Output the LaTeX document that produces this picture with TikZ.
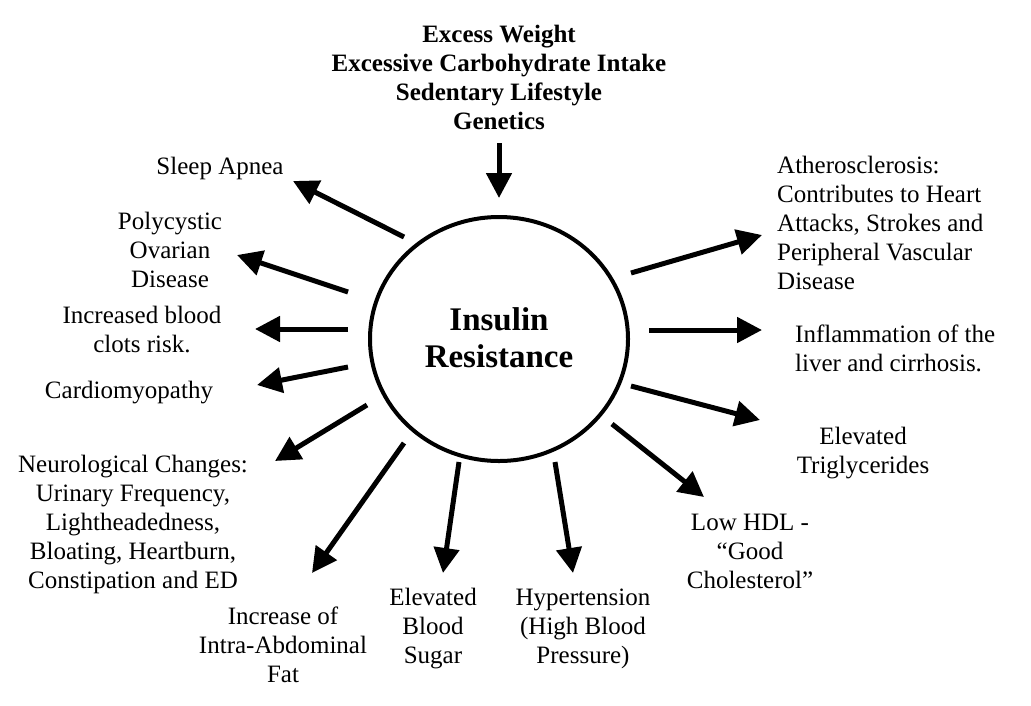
\documentclass[tikz,border=0pt]{standalone}
\usepackage{fontspec}
\setmainfont{Liberation Serif}
\usetikzlibrary{arrows.meta,shapes.geometric}
\tikzset{
  lbl/.style={inner sep=0pt, align=center, font=\fontsize{25}{29}\selectfont},
  lbll/.style={inner sep=0pt, align=left, font=\fontsize{25}{29}\selectfont},
  arr/.style={line width=5pt, -{Triangle[length=25pt,width=25pt]}},
}
\begin{document}
\begin{tikzpicture}[x=1pt,y=-1pt]
\useasboundingbox (0,0) rectangle (1031,705);
% center ellipse
\node[ellipse, draw, line width=4pt, minimum width=258pt, minimum height=244pt, inner sep=0pt] (ir) at (499,339) {};
\node[inner sep=0pt, align=center, font=\fontsize{33}{37}\selectfont\bfseries] (irt) at (499,338) {Insulin\\Resistance};
% labels
\node[lbl, font=\fontsize{25}{29}\selectfont\bfseries] (causes) at (499,77) {Excess Weight\\Excessive Carbohydrate Intake\\Sedentary Lifestyle\\Genetics};
\node[lbl] (sleep) at (220,168) {Sleep Apnea};
\node[lbl] (poly) at (170,250) {Polycystic\\Ovarian\\Disease};
\node[lbl] (clots) at (142,329.5) {Increased blood\\clots risk.};
\node[lbl] (cardio) at (129,393) {Cardiomyopathy};
\node[lbl] (neuro) at (133,524.5) {Neurological Changes:\\Urinary Frequency,\\Lightheadedness,\\Bloating, Heartburn,\\Constipation and ED};
\node[lbl] (fat) at (283,644.5) {Increase of\\Intra-Abdominal\\Fat};
\node[lbl] (sugar) at (433,629) {Elevated\\Blood\\Sugar};
\node[lbl] (hyper) at (583,629) {Hypertension\\(High Blood\\Pressure)};
\node[lbl] (hdl) at (750,551) {Low HDL -\\“Good\\Cholesterol”};
\node[lbl] (trig) at (863,453.5) {Elevated\\Triglycerides};
\node[lbll, anchor=west] (liver) at (795,348.5) {Inflammation of the\\liver and cirrhosis.};
\node[lbll, anchor=west] (ath) at (777,223) {Atherosclerosis:\\Contributes to Heart\\Attacks, Strokes and\\Peripheral Vascular\\Disease};
% arrow end points
\coordinate (s0) at (499,143); \coordinate (t0) at (499,198);
\coordinate (s1) at (404,237); \coordinate (t1) at (293,181);
\coordinate (s2) at (348,292); \coordinate (t2) at (237,255);
\coordinate (s3) at (348,329); \coordinate (t3) at (255,329);
\coordinate (s4) at (348,367); \coordinate (t4) at (257,385);
\coordinate (s5) at (367,405); \coordinate (t5) at (275,461);
\coordinate (s6) at (404,443); \coordinate (t6) at (312,573);
\coordinate (s7) at (459,462); \coordinate (t7) at (443,573);
\coordinate (s8) at (555,462); \coordinate (t8) at (573,573);
\coordinate (s9) at (612,424); \coordinate (t9) at (704,497);
\coordinate (s10) at (631,386); \coordinate (t10) at (760,420);
\coordinate (s11) at (649,330); \coordinate (t11) at (762,330);
\coordinate (s12) at (631,273); \coordinate (t12) at (762,235);
\foreach \i in {0,...,12} { \draw[arr] (s\i) -- (t\i); }
\end{tikzpicture}
\end{document}
